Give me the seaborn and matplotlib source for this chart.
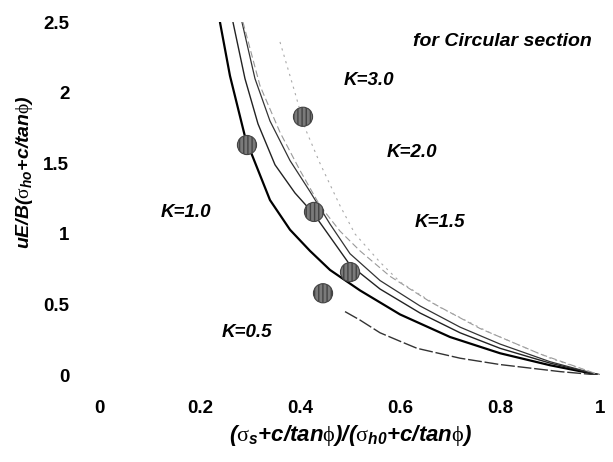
import numpy as np
import pandas as pd
import seaborn as sns
import matplotlib.pyplot as plt

# curves (x = normalised stress, y = normalised displacement)
k10_x = [0.24, 0.26, 0.29, 0.304, 0.34, 0.38, 0.42, 0.46, 0.52, 0.6, 0.7, 0.8, 0.9, 1.0]
k10_y = [2.5, 2.12, 1.69, 1.56, 1.24, 1.03, 0.88, 0.745, 0.6, 0.43, 0.27, 0.155, 0.07, 0.0]

k15_x = [0.266, 0.29, 0.316, 0.35, 0.39, 0.428, 0.46, 0.5, 0.56, 0.64, 0.72, 0.8, 0.9, 1.0]
k15_y = [2.5, 2.1, 1.78, 1.49, 1.29, 1.14, 0.98, 0.78, 0.61, 0.44, 0.3, 0.19, 0.085, 0.0]

k20_x = [0.284, 0.31, 0.34, 0.38, 0.42, 0.46, 0.5, 0.56, 0.64, 0.72, 0.8, 0.9, 1.0]
k20_y = [2.5, 2.1, 1.8, 1.52, 1.3, 1.07, 0.86, 0.67, 0.49, 0.34, 0.22, 0.095, 0.0]

k20b_x = [0.286, 0.32, 0.36, 0.4, 0.44, 0.48, 0.52, 0.58, 0.66, 0.76, 0.88, 1.0]
k20b_y = [2.5, 2.05, 1.72, 1.45, 1.2, 1.02, 0.88, 0.7, 0.52, 0.33, 0.15, 0.0]

k30_x = [0.36, 0.39, 0.41, 0.44, 0.48, 0.51, 0.56, 0.6, 0.68, 0.78, 0.9, 1.0]
k30_y = [2.36, 2.0, 1.75, 1.5, 1.2, 1.0, 0.8, 0.66, 0.48, 0.3, 0.12, 0.0]

k05_x = [0.49, 0.52, 0.56, 0.6, 0.634, 0.72, 0.8, 0.92, 1.0]
k05_y = [0.45, 0.39, 0.3, 0.24, 0.19, 0.12, 0.075, 0.025, 0.0]

# measured points
meas_x = [0.294, 0.406, 0.428, 0.5, 0.446]
meas_y = [1.63, 1.83, 1.156, 0.73, 0.58]

# curve labels
label_text = ['K=3.0', 'K=2.0', 'K=1.5', 'K=1.0', 'K=0.5']
label_x = [0.537, 0.623, 0.68, 0.172, 0.294]
label_y = [2.09, 1.58, 1.08, 1.15, 0.30]

sns.set_style('white')
plt.rcParams['font.family'] = ['Liberation Sans', 'DejaVu Sans']
plt.rcParams['text.color'] = 'black'
plt.rcParams['axes.labelcolor'] = 'black'
plt.rcParams['xtick.color'] = 'black'
plt.rcParams['ytick.color'] = 'black'
# bold italic sans for everything in the axis labels, plain serif for the greek symbols
plt.rcParams['mathtext.fontset'] = 'custom'
plt.rcParams['mathtext.it'] = 'Liberation Sans:bold:italic'
plt.rcParams['mathtext.rm'] = 'Liberation Sans:bold:italic'
plt.rcParams['mathtext.bf'] = 'Liberation Sans:bold:italic'
plt.rcParams['mathtext.sf'] = 'Liberation Serif'

fig = plt.figure(figsize=(6.13, 4.62), dpi=100)
ax = fig.add_axes([0.163, 0.188, 0.816, 0.764])

# solid black curves
sns.lineplot(x=k10_x, y=k10_y, sort=False, color='black', lw=1.6, ax=ax)
sns.lineplot(x=k15_x, y=k15_y, sort=False, color='#222222', lw=1.0, ax=ax)
sns.lineplot(x=k20_x, y=k20_y, sort=False, color='#333333', lw=0.9, ax=ax)
# faint scanned curves
sns.lineplot(x=k20b_x, y=k20b_y, sort=False, color='#999999', lw=0.8, ls=(0, (6, 3)), ax=ax)
sns.lineplot(x=k30_x, y=k30_y, sort=False, color='#aaaaaa', lw=0.8, ls=(0, (2, 4)), ax=ax)
sns.lineplot(x=k05_x, y=k05_y, sort=False, color='#333333', lw=1.0, ls=(0, (10, 2)), ax=ax)

sns.scatterplot(x=meas_x, y=meas_y, s=190, color='#7a7a7a', edgecolor='#444444',
                linewidth=0.8, hatch='||||', zorder=5, ax=ax)

for t, lx, ly in zip(label_text, label_x, label_y):
    ax.text(lx, ly, t, fontsize=13.5, fontweight='bold', fontstyle='italic', ha='center', va='center')
ax.text(0.804, 2.36, 'for Circular section', fontsize=14, fontweight='bold', fontstyle='italic',
        ha='center', va='center')

ax.set_xlim(0, 1)
ax.set_ylim(0, 2.5)
ax.set_xticks([0, 0.2, 0.4, 0.6, 0.8, 1])
ax.set_xticklabels(['0', '0.2', '0.4', '0.6', '0.8', '1'])
ax.set_yticks([0, 0.5, 1, 1.5, 2, 2.5])
ax.set_yticklabels(['0', '0.5', '1', '1.5', '2', '2.5'])
ax.tick_params(length=0, labelsize=13.5)
ax.tick_params(axis='x', pad=18)
ax.tick_params(axis='y', pad=22)
for lab in ax.get_xticklabels() + ax.get_yticklabels():
    lab.set_fontweight('bold')
for sp in ax.spines.values():
    sp.set_visible(False)

ax.set_xlabel(r'$(\mathsf{\sigma}_{s}{+}c/tan\mathsf{\phi})/(\mathsf{\sigma}_{h0}{+}c/tan\mathsf{\phi})$',
              fontsize=16, labelpad=4)
ax.set_ylabel(r'$uE/B(\mathsf{\sigma}_{ho}{+}c/tan\mathsf{\phi})$', fontsize=14)
ax.yaxis.set_label_coords(-0.13, 0.575)

fig.savefig('out.png', dpi=100)
